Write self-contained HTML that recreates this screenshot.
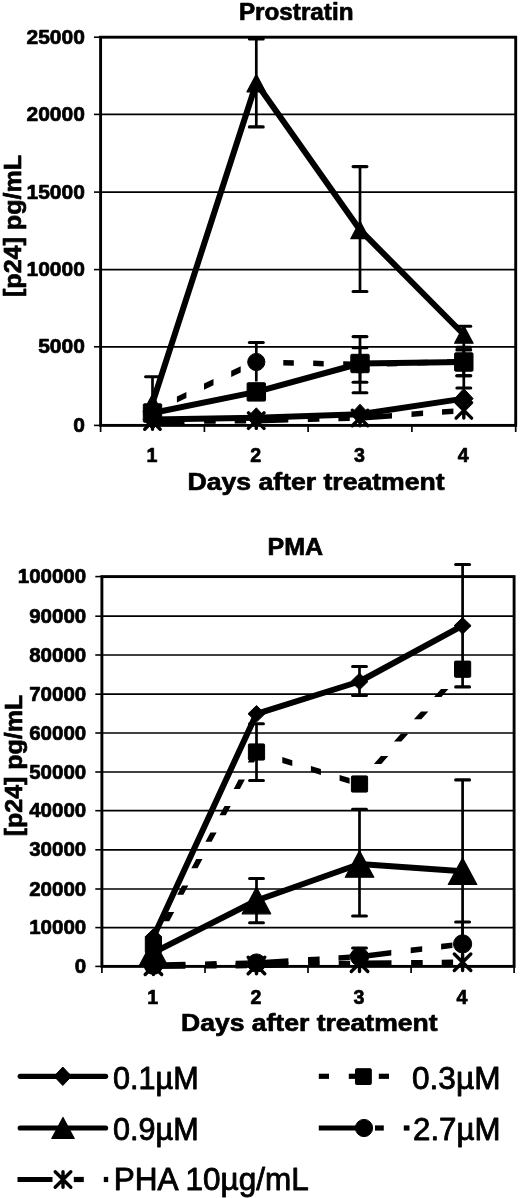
<!DOCTYPE html>
<html lang="en">
<head>
<meta charset="utf-8">
<title>Prostratin and PMA p24 time course</title>
<style>
html,body{margin:0;padding:0;background:#fff;}
body{width:520px;height:1198px;overflow:hidden;}
svg{display:block;}
svg text{font-family:"Liberation Sans",sans-serif;fill:#000;}
</style>
</head>
<body>
<svg width="520" height="1198" viewBox="0 0 520 1198">
<defs><filter id="soft" x="-2%" y="-2%" width="104%" height="104%"><feGaussianBlur stdDeviation="0.45"/></filter></defs>
<rect width="520" height="1198" fill="#fff"/>
<g filter="url(#soft)" stroke="#000" fill="#000">

<g id="chart-prostratin">
<line x1="100.6" y1="114.4" x2="515.7" y2="114.4" stroke-width="1.7" />
<line x1="100.6" y1="192.1" x2="515.7" y2="192.1" stroke-width="1.7" />
<line x1="100.6" y1="269.6" x2="515.7" y2="269.6" stroke-width="1.7" />
<line x1="100.6" y1="346.8" x2="515.7" y2="346.8" stroke-width="1.7" />
<rect x="100.6" y="37.2" width="415.1" height="388.2" fill="none" stroke-width="2.9"/>
<line x1="94.0" y1="37.2" x2="100.6" y2="37.2" stroke-width="1.6" />
<line x1="94.0" y1="114.4" x2="100.6" y2="114.4" stroke-width="1.6" />
<line x1="94.0" y1="192.1" x2="100.6" y2="192.1" stroke-width="1.6" />
<line x1="94.0" y1="269.6" x2="100.6" y2="269.6" stroke-width="1.6" />
<line x1="94.0" y1="346.8" x2="100.6" y2="346.8" stroke-width="1.6" />
<line x1="94.0" y1="425.4" x2="100.6" y2="425.4" stroke-width="1.6" />
<line x1="100.6" y1="425.4" x2="100.6" y2="432.0" stroke-width="1.7" />
<line x1="204.4" y1="425.4" x2="204.4" y2="432.0" stroke-width="1.7" />
<line x1="308.1" y1="425.4" x2="308.1" y2="432.0" stroke-width="1.7" />
<line x1="411.9" y1="425.4" x2="411.9" y2="432.0" stroke-width="1.7" />
<line x1="515.7" y1="425.4" x2="515.7" y2="432.0" stroke-width="1.7" />
<g stroke="#000" stroke-width="0.7" stroke-linejoin="round">
<text x="238.9" y="20.1" font-size="24" font-weight="bold" text-anchor="start" textLength="114.6" lengthAdjust="spacingAndGlyphs" >Prostratin</text>
<text x="84.9" y="431.8" font-size="21" font-weight="bold" text-anchor="end" >0</text>
<text x="84.9" y="353.2" font-size="21" font-weight="bold" text-anchor="end" >5000</text>
<text x="84.9" y="276.0" font-size="21" font-weight="bold" text-anchor="end" >10000</text>
<text x="84.9" y="198.5" font-size="21" font-weight="bold" text-anchor="end" >15000</text>
<text x="84.9" y="120.8" font-size="21" font-weight="bold" text-anchor="end" >20000</text>
<text x="84.9" y="43.6" font-size="21" font-weight="bold" text-anchor="end" >25000</text>
<text x="151.9" y="462.0" font-size="19.6" font-weight="bold" text-anchor="middle" >1</text>
<text x="255.7" y="462.0" font-size="19.6" font-weight="bold" text-anchor="middle" >2</text>
<text x="359.4" y="462.0" font-size="19.6" font-weight="bold" text-anchor="middle" >3</text>
<text x="463.2" y="462.0" font-size="19.6" font-weight="bold" text-anchor="middle" >4</text>
<text x="187.6" y="490.0" font-size="24" font-weight="bold" text-anchor="start" textLength="257.0" lengthAdjust="spacingAndGlyphs" >Days after treatment</text>
<text transform="translate(20.8,297.0) rotate(-90)" font-size="24.6" font-weight="bold" textLength="142.0" lengthAdjust="spacingAndGlyphs">[p24] pg/mL</text>
</g>
<line x1="152.5" y1="376.7" x2="152.5" y2="403.0" stroke-width="2.7" />
<line x1="145.6" y1="376.7" x2="159.4" y2="376.7" stroke-width="3.1" stroke-linecap="round"/>
<line x1="256.3" y1="38.9" x2="256.3" y2="126.9" stroke-width="2.7" />
<line x1="249.4" y1="38.9" x2="263.2" y2="38.9" stroke-width="3.1" stroke-linecap="round"/>
<line x1="249.4" y1="126.9" x2="263.2" y2="126.9" stroke-width="3.1" stroke-linecap="round"/>
<line x1="360.0" y1="166.6" x2="360.0" y2="291.5" stroke-width="2.7" />
<line x1="353.1" y1="166.6" x2="366.9" y2="166.6" stroke-width="3.1" stroke-linecap="round"/>
<line x1="353.1" y1="291.5" x2="366.9" y2="291.5" stroke-width="3.1" stroke-linecap="round"/>
<line x1="463.8" y1="326.2" x2="463.8" y2="343.0" stroke-width="2.7" />
<line x1="456.9" y1="326.2" x2="470.7" y2="326.2" stroke-width="3.1" stroke-linecap="round"/>
<line x1="256.3" y1="342.5" x2="256.3" y2="381.5" stroke-width="2.7" />
<line x1="249.4" y1="342.5" x2="263.2" y2="342.5" stroke-width="3.1" stroke-linecap="round"/>
<line x1="360.0" y1="336.6" x2="360.0" y2="392.7" stroke-width="2.7" />
<line x1="353.1" y1="336.6" x2="366.9" y2="336.6" stroke-width="3.1" stroke-linecap="round"/>
<line x1="353.1" y1="392.7" x2="366.9" y2="392.7" stroke-width="3.1" stroke-linecap="round"/>
<line x1="360.0" y1="347.7" x2="360.0" y2="382.3" stroke-width="2.7" />
<line x1="353.1" y1="347.7" x2="366.9" y2="347.7" stroke-width="3.1" stroke-linecap="round"/>
<line x1="353.1" y1="382.3" x2="366.9" y2="382.3" stroke-width="3.1" stroke-linecap="round"/>
<line x1="463.8" y1="347.2" x2="463.8" y2="375.7" stroke-width="2.7" />
<line x1="456.9" y1="347.2" x2="470.7" y2="347.2" stroke-width="3.1" stroke-linecap="round"/>
<line x1="456.9" y1="375.7" x2="470.7" y2="375.7" stroke-width="3.1" stroke-linecap="round"/>
<line x1="463.8" y1="349.9" x2="463.8" y2="375.7" stroke-width="2.7" />
<line x1="456.9" y1="349.9" x2="470.7" y2="349.9" stroke-width="3.1" stroke-linecap="round"/>
<line x1="456.9" y1="375.7" x2="470.7" y2="375.7" stroke-width="3.1" stroke-linecap="round"/>
<line x1="463.8" y1="343.0" x2="463.8" y2="388.0" stroke-width="2.7" />
<line x1="456.9" y1="388.0" x2="470.7" y2="388.0" stroke-width="3.1" stroke-linecap="round"/>
<path d="M152.5,418.7L184.5,418.5L184.5,424.0L152.5,424.3ZM204.1,418.3L215.7,418.2L215.7,423.7L204.1,423.8ZM234.7,418.0L246.1,417.9L246.1,423.4L234.7,423.5Z" stroke="none"/>
<path d="M256.3,417.8L288.3,417.0L288.3,422.5L256.3,423.4ZM307.8,416.6L319.4,416.3L319.4,421.8L307.8,422.1ZM338.4,415.8L349.8,415.5L349.8,421.0L338.4,421.3Z" stroke="none"/>
<path d="M360.0,415.2L392.0,412.9L392.0,418.4L360.0,420.8ZM411.5,411.5L423.1,410.6L423.1,416.1L411.5,417.0ZM442.0,409.2L453.4,408.4L453.4,413.9L442.0,414.8Z" stroke="none"/>
<polyline points="152.5,419.4 256.3,417.8 360.0,414.2 463.8,398.6" fill="none" stroke-width="6.0" stroke-linejoin="round" stroke-linecap="round"/>
<path d="M152.5,408.0L159.3,404.8L159.3,410.8L152.5,414.0ZM176.9,396.4L186.4,391.9L186.4,398.0L176.9,402.5ZM204.0,383.6L213.5,379.1L213.5,385.2L204.0,389.7ZM231.2,370.8L240.7,366.3L240.7,372.4L231.2,376.9Z" stroke="none"/>
<path d="M256.3,359.2L263.8,359.4L263.8,364.9L256.3,364.8ZM283.3,359.9L293.8,360.2L293.8,365.7L283.3,365.4ZM313.2,360.6L323.7,360.9L323.7,366.4L313.2,366.1ZM343.2,361.3L353.7,361.6L353.7,367.1L343.2,366.8Z" stroke="none"/>
<path d="M360.0,361.7L367.5,361.5L367.5,367.0L360.0,367.3ZM387.0,361.0L397.5,360.7L397.5,366.2L387.0,366.5ZM417.0,360.1L427.5,359.8L427.5,365.3L417.0,365.6ZM447.0,359.2L457.5,358.9L457.5,364.4L447.0,364.7Z" stroke="none"/>
<polyline points="152.5,413.0 256.3,391.9 360.0,363.5 463.8,362.0" fill="none" stroke-width="6.0" stroke-linejoin="round" stroke-linecap="round"/>
<polyline points="152.5,403.0 256.3,83.0 360.0,229.9 463.8,334.5" fill="none" stroke-width="6.0" stroke-linejoin="round" stroke-linecap="round"/>
<path d="M144.7,413.8L160.2,429.2M160.2,413.8L144.7,429.2M152.5,413.8L152.5,429.2" fill="none" stroke="#000" stroke-width="3.4" stroke-linecap="round"/>
<path d="M248.5,412.9L264.0,428.4M264.0,412.9L248.5,428.4M256.3,412.9L256.3,428.4" fill="none" stroke="#000" stroke-width="3.4" stroke-linecap="round"/>
<path d="M352.3,410.2L367.8,425.8M367.8,410.2L352.3,425.8M360.0,410.2L360.0,425.8" fill="none" stroke="#000" stroke-width="3.4" stroke-linecap="round"/>
<path d="M456.1,402.6L471.6,418.1M471.6,402.6L456.1,418.1M463.8,402.6L463.8,418.1" fill="none" stroke="#000" stroke-width="3.4" stroke-linecap="round"/>
<polygon points="152.5,409.4 161.7,419.4 152.5,429.4 143.2,419.4" stroke="#000" stroke-width="1" stroke-linejoin="round"/>
<polygon points="256.3,407.8 265.5,417.8 256.3,427.8 247.0,417.8" stroke="#000" stroke-width="1" stroke-linejoin="round"/>
<polygon points="360.0,404.2 369.3,414.2 360.0,424.2 350.8,414.2" stroke="#000" stroke-width="1" stroke-linejoin="round"/>
<polygon points="463.8,388.6 473.1,398.6 463.8,408.6 454.6,398.6" stroke="#000" stroke-width="1" stroke-linejoin="round"/>
<circle cx="152.5" cy="411.0" r="8.6"/>
<circle cx="256.3" cy="362.0" r="8.6"/>
<circle cx="360.0" cy="364.5" r="8.6"/>
<circle cx="463.8" cy="361.5" r="8.6"/>
<rect x="143.3" y="403.8" width="18.4" height="18.4" rx="1"/>
<rect x="247.1" y="382.7" width="18.4" height="18.4" rx="1"/>
<rect x="350.8" y="354.3" width="18.4" height="18.4" rx="1"/>
<rect x="454.6" y="352.8" width="18.4" height="18.4" rx="1"/>
<polygon points="152.5,394.2 161.7,411.8 143.2,411.8" stroke="#000" stroke-width="1.2" stroke-linejoin="round"/>
<polygon points="256.3,74.2 265.5,91.8 247.0,91.8" stroke="#000" stroke-width="1.2" stroke-linejoin="round"/>
<polygon points="360.0,221.2 369.3,238.7 350.8,238.7" stroke="#000" stroke-width="1.2" stroke-linejoin="round"/>
<polygon points="463.8,325.8 473.1,343.2 454.6,343.2" stroke="#000" stroke-width="1.2" stroke-linejoin="round"/>
</g>
<g id="chart-pma">
<line x1="101.9" y1="616.2" x2="514.1" y2="616.2" stroke-width="1.7" />
<line x1="101.9" y1="655.0" x2="514.1" y2="655.0" stroke-width="1.7" />
<line x1="101.9" y1="694.2" x2="514.1" y2="694.2" stroke-width="1.7" />
<line x1="101.9" y1="733.0" x2="514.1" y2="733.0" stroke-width="1.7" />
<line x1="101.9" y1="772.0" x2="514.1" y2="772.0" stroke-width="1.7" />
<line x1="101.9" y1="810.7" x2="514.1" y2="810.7" stroke-width="1.7" />
<line x1="101.9" y1="849.8" x2="514.1" y2="849.8" stroke-width="1.7" />
<line x1="101.9" y1="889.0" x2="514.1" y2="889.0" stroke-width="1.7" />
<line x1="101.9" y1="927.6" x2="514.1" y2="927.6" stroke-width="1.7" />
<rect x="101.9" y="576.6" width="412.2" height="389.8" fill="none" stroke-width="2.9"/>
<line x1="95.3" y1="576.6" x2="101.9" y2="576.6" stroke-width="1.6" />
<line x1="95.3" y1="616.2" x2="101.9" y2="616.2" stroke-width="1.6" />
<line x1="95.3" y1="655.0" x2="101.9" y2="655.0" stroke-width="1.6" />
<line x1="95.3" y1="694.2" x2="101.9" y2="694.2" stroke-width="1.6" />
<line x1="95.3" y1="733.0" x2="101.9" y2="733.0" stroke-width="1.6" />
<line x1="95.3" y1="772.0" x2="101.9" y2="772.0" stroke-width="1.6" />
<line x1="95.3" y1="810.7" x2="101.9" y2="810.7" stroke-width="1.6" />
<line x1="95.3" y1="849.8" x2="101.9" y2="849.8" stroke-width="1.6" />
<line x1="95.3" y1="889.0" x2="101.9" y2="889.0" stroke-width="1.6" />
<line x1="95.3" y1="927.6" x2="101.9" y2="927.6" stroke-width="1.6" />
<line x1="95.3" y1="966.4" x2="101.9" y2="966.4" stroke-width="1.6" />
<line x1="101.9" y1="966.4" x2="101.9" y2="973.0" stroke-width="1.7" />
<line x1="205.0" y1="966.4" x2="205.0" y2="973.0" stroke-width="1.7" />
<line x1="308.0" y1="966.4" x2="308.0" y2="973.0" stroke-width="1.7" />
<line x1="411.1" y1="966.4" x2="411.1" y2="973.0" stroke-width="1.7" />
<line x1="514.1" y1="966.4" x2="514.1" y2="973.0" stroke-width="1.7" />
<g stroke="#000" stroke-width="0.7" stroke-linejoin="round">
<text x="267.6" y="554.6" font-size="24" font-weight="bold" text-anchor="start" textLength="55.6" lengthAdjust="spacingAndGlyphs" >PMA</text>
<text x="86.2" y="973.0" font-size="20.5" font-weight="bold" text-anchor="end" >0</text>
<text x="86.2" y="934.2" font-size="20.5" font-weight="bold" text-anchor="end" >10000</text>
<text x="86.2" y="895.6" font-size="20.5" font-weight="bold" text-anchor="end" >20000</text>
<text x="86.2" y="856.4" font-size="20.5" font-weight="bold" text-anchor="end" >30000</text>
<text x="86.2" y="817.3" font-size="20.5" font-weight="bold" text-anchor="end" >40000</text>
<text x="86.2" y="778.6" font-size="20.5" font-weight="bold" text-anchor="end" >50000</text>
<text x="86.2" y="739.6" font-size="20.5" font-weight="bold" text-anchor="end" >60000</text>
<text x="86.2" y="700.8" font-size="20.5" font-weight="bold" text-anchor="end" >70000</text>
<text x="86.2" y="661.6" font-size="20.5" font-weight="bold" text-anchor="end" >80000</text>
<text x="86.2" y="622.8" font-size="20.5" font-weight="bold" text-anchor="end" >90000</text>
<text x="86.2" y="583.2" font-size="20.5" font-weight="bold" text-anchor="end" >100000</text>
<text x="152.8" y="1003.6" font-size="19.6" font-weight="bold" text-anchor="middle" >1</text>
<text x="255.9" y="1003.6" font-size="19.6" font-weight="bold" text-anchor="middle" >2</text>
<text x="358.9" y="1003.6" font-size="19.6" font-weight="bold" text-anchor="middle" >3</text>
<text x="462.0" y="1003.6" font-size="19.6" font-weight="bold" text-anchor="middle" >4</text>
<text x="181.0" y="1031.0" font-size="24" font-weight="bold" text-anchor="start" textLength="256.5" lengthAdjust="spacingAndGlyphs" >Days after treatment</text>
<text transform="translate(21.8,836.3) rotate(-90)" font-size="24.6" font-weight="bold" textLength="141.5" lengthAdjust="spacingAndGlyphs">[p24] pg/mL</text>
</g>
<line x1="359.5" y1="666.5" x2="359.5" y2="695.4" stroke-width="2.7" />
<line x1="352.6" y1="666.5" x2="366.4" y2="666.5" stroke-width="3.1" stroke-linecap="round"/>
<line x1="352.6" y1="695.4" x2="366.4" y2="695.4" stroke-width="3.1" stroke-linecap="round"/>
<line x1="462.6" y1="564.5" x2="462.6" y2="686.9" stroke-width="2.7" />
<line x1="455.7" y1="564.5" x2="469.5" y2="564.5" stroke-width="3.1" stroke-linecap="round"/>
<line x1="455.7" y1="686.9" x2="469.5" y2="686.9" stroke-width="3.1" stroke-linecap="round"/>
<line x1="256.5" y1="723.8" x2="256.5" y2="780.5" stroke-width="2.7" />
<line x1="249.6" y1="723.8" x2="263.4" y2="723.8" stroke-width="3.1" stroke-linecap="round"/>
<line x1="249.6" y1="780.5" x2="263.4" y2="780.5" stroke-width="3.1" stroke-linecap="round"/>
<line x1="256.5" y1="878.5" x2="256.5" y2="922.7" stroke-width="2.7" />
<line x1="249.6" y1="878.5" x2="263.4" y2="878.5" stroke-width="3.1" stroke-linecap="round"/>
<line x1="249.6" y1="922.7" x2="263.4" y2="922.7" stroke-width="3.1" stroke-linecap="round"/>
<line x1="359.5" y1="809.2" x2="359.5" y2="916.0" stroke-width="2.7" />
<line x1="352.6" y1="809.2" x2="366.4" y2="809.2" stroke-width="3.1" stroke-linecap="round"/>
<line x1="352.6" y1="916.0" x2="366.4" y2="916.0" stroke-width="3.1" stroke-linecap="round"/>
<line x1="462.6" y1="779.9" x2="462.6" y2="962.0" stroke-width="2.7" />
<line x1="455.7" y1="779.9" x2="469.5" y2="779.9" stroke-width="3.1" stroke-linecap="round"/>
<line x1="462.6" y1="922.0" x2="462.6" y2="944.0" stroke-width="2.7" />
<line x1="455.7" y1="922.0" x2="469.5" y2="922.0" stroke-width="3.1" stroke-linecap="round"/>
<line x1="359.5" y1="948.0" x2="359.5" y2="957.0" stroke-width="2.7" />
<line x1="352.6" y1="948.0" x2="366.4" y2="948.0" stroke-width="3.1" stroke-linecap="round"/>
<path d="M153.4,963.5L185.4,963.3L185.4,968.8L153.4,969.1ZM205.0,963.1L216.6,963.1L216.6,968.6L205.0,968.6ZM235.6,962.9L247.0,962.8L247.0,968.3L235.6,968.4Z" stroke="none"/>
<path d="M256.5,962.7L288.5,962.1L288.5,967.6L256.5,968.3ZM308.1,961.6L319.7,961.4L319.7,966.9L308.1,967.1ZM338.7,961.0L350.1,960.8L350.1,966.3L338.7,966.5Z" stroke="none"/>
<path d="M359.5,960.5L391.5,960.2L391.5,965.7L359.5,966.1ZM411.1,960.0L422.7,959.9L422.7,965.4L411.1,965.5ZM441.7,959.8L453.1,959.6L453.1,965.1L441.7,965.3Z" stroke="none"/>
<path d="M153.4,962.5L185.4,961.8L185.4,967.3L153.4,968.1ZM205.0,961.4L216.6,961.1L216.6,966.6L205.0,966.9ZM235.6,960.7L247.0,960.5L247.0,966.0L235.6,966.2Z" stroke="none"/>
<path d="M256.5,960.2L288.4,958.3L288.4,963.8L256.5,965.8ZM308.0,957.1L319.6,956.4L319.6,962.0L308.0,962.7ZM338.5,955.3L349.9,954.6L349.9,960.1L338.5,960.8Z" stroke="none"/>
<path d="M359.5,954.0L391.3,950.1L391.3,955.6L359.5,959.6ZM410.7,947.6L422.2,946.2L422.2,951.7L410.7,953.2ZM441.1,943.8L452.4,942.4L452.4,947.9L441.1,949.4Z" stroke="none"/>
<path d="M150.3,945.0L156.5,945.0L160.1,938.4L153.8,938.4ZM163.0,921.2L169.3,921.2L174.2,911.9L168.0,911.9ZM177.2,894.7L183.4,894.7L188.3,885.5L182.1,885.5ZM191.3,868.3L197.5,868.3L202.5,859.0L196.2,859.0ZM205.4,841.8L211.6,841.8L216.6,832.5L210.4,832.5ZM219.5,815.3L225.8,815.3L230.7,806.1L224.5,806.1ZM233.7,788.9L239.9,788.9L244.9,779.6L238.6,779.6ZM247.8,762.4L254.0,762.4L259.0,753.1L252.8,753.1Z" stroke="none"/>
<path d="M256.5,749.1L263.6,751.3L263.6,757.1L256.5,754.9ZM282.3,757.1L292.3,760.2L292.3,766.0L282.3,762.9ZM310.9,766.0L320.9,769.1L320.9,774.9L310.9,771.8ZM339.6,774.9L349.6,778.0L349.6,783.8L339.6,780.7Z" stroke="none"/>
<path d="M355.8,784.0L363.2,784.0L368.2,778.4L360.8,778.4ZM373.9,763.9L381.3,763.9L388.3,756.1L380.9,756.1ZM393.9,741.6L401.3,741.6L408.3,733.8L400.9,733.8ZM413.9,719.3L421.3,719.3L428.4,711.4L421.0,711.4ZM434.0,696.9L441.4,696.9L448.4,689.1L441.0,689.1ZM454.0,674.6L461.4,674.6L466.3,669.2L458.9,669.2Z" stroke="none"/>
<polyline points="153.4,952.6 256.5,900.5 359.5,864.0 462.6,871.2" fill="none" stroke-width="6.0" stroke-linejoin="round" stroke-linecap="round"/>
<polyline points="153.4,937.0 256.5,713.8 359.5,681.5 462.6,625.7" fill="none" stroke-width="6.0" stroke-linejoin="round" stroke-linecap="round"/>
<path d="M145.2,958.0L161.7,974.5M161.7,958.0L145.2,974.5M153.4,958.0L153.4,974.5" fill="none" stroke="#000" stroke-width="3.4" stroke-linecap="round"/>
<path d="M248.2,957.2L264.7,973.8M264.7,957.2L248.2,973.8M256.5,957.2L256.5,973.8" fill="none" stroke="#000" stroke-width="3.4" stroke-linecap="round"/>
<path d="M351.3,955.0L367.8,971.5M367.8,955.0L351.3,971.5M359.5,955.0L359.5,971.5" fill="none" stroke="#000" stroke-width="3.4" stroke-linecap="round"/>
<path d="M454.3,954.0L470.8,970.5M470.8,954.0L454.3,970.5M462.6,954.0L462.6,970.5" fill="none" stroke="#000" stroke-width="3.4" stroke-linecap="round"/>
<circle cx="153.4" cy="965.3" r="9.1"/>
<circle cx="256.5" cy="963.0" r="9.1"/>
<circle cx="359.5" cy="956.8" r="9.1"/>
<circle cx="462.6" cy="943.9" r="9.1"/>
<polygon points="153.4,939.4 167.7,965.9 139.2,965.9" stroke="#000" stroke-width="1.2" stroke-linejoin="round"/>
<polygon points="256.5,887.2 270.7,913.8 242.2,913.8" stroke="#000" stroke-width="1.2" stroke-linejoin="round"/>
<polygon points="359.5,850.8 373.8,877.2 345.3,877.2" stroke="#000" stroke-width="1.2" stroke-linejoin="round"/>
<polygon points="462.6,858.0 476.8,884.5 448.3,884.5" stroke="#000" stroke-width="1.2" stroke-linejoin="round"/>
<rect x="145.3" y="936.9" width="16.2" height="16.2" rx="1"/>
<rect x="248.4" y="743.9" width="16.2" height="16.2" rx="1"/>
<rect x="351.4" y="775.9" width="16.2" height="16.2" rx="1"/>
<rect x="454.5" y="661.1" width="16.2" height="16.2" rx="1"/>
<polygon points="153.4,928.8 161.9,937.0 153.4,945.2 144.9,937.0" stroke="#000" stroke-width="1" stroke-linejoin="round"/>
<polygon points="256.5,705.5 265.0,713.8 256.5,722.0 248.0,713.8" stroke="#000" stroke-width="1" stroke-linejoin="round"/>
<polygon points="359.5,673.2 368.0,681.5 359.5,689.8 351.0,681.5" stroke="#000" stroke-width="1" stroke-linejoin="round"/>
<polygon points="462.6,617.5 471.1,625.7 462.6,634.0 454.1,625.7" stroke="#000" stroke-width="1" stroke-linejoin="round"/>
</g>
<g id="legend">
<line x1="20.2" y1="1076.3" x2="105.6" y2="1076.3" stroke-width="5.2" stroke-linecap="round"/>
<polygon points="62.8,1067.0 71.5,1076.3 62.8,1085.5 54.0,1076.3" stroke="#000" stroke-width="1" stroke-linejoin="round"/>
<line x1="20.2" y1="1128.0" x2="105.6" y2="1128.0" stroke-width="5.2" stroke-linecap="round"/>
<polygon points="63.0,1117.5 74.2,1138.5 51.8,1138.5" stroke="#000" stroke-width="1.2" stroke-linejoin="round"/>
<line x1="17.5" y1="1179.5" x2="52.5" y2="1179.5" stroke-width="5.2" />
<line x1="73.8" y1="1179.5" x2="83.8" y2="1179.5" stroke-width="5.2" />
<line x1="103.8" y1="1179.5" x2="108.2" y2="1179.5" stroke-width="5.2" />
<path d="M55.2,1171.7L70.8,1187.3M70.8,1171.7L55.2,1187.3M63.0,1171.7L63.0,1187.3" fill="none" stroke="#000" stroke-width="3.4" stroke-linecap="round"/>
<line x1="318.8" y1="1076.3" x2="329.0" y2="1076.3" stroke-width="5.2" />
<line x1="348.8" y1="1076.3" x2="359.0" y2="1076.3" stroke-width="5.2" />
<line x1="378.8" y1="1076.3" x2="389.0" y2="1076.3" stroke-width="5.2" />
<rect x="355.5" y="1068.7" width="15.8" height="15.8" rx="1"/>
<line x1="318.8" y1="1128.0" x2="358.0" y2="1128.0" stroke-width="5.2" />
<line x1="375.0" y1="1128.0" x2="383.8" y2="1128.0" stroke-width="5.2" />
<line x1="403.8" y1="1128.0" x2="409.5" y2="1128.0" stroke-width="5.2" />
<circle cx="364.0" cy="1128.0" r="8.6"/>
<g stroke="#000" stroke-width="0.85" stroke-linejoin="round">
<text x="113.0" y="1089.3" font-size="31" font-weight="normal" text-anchor="start" textLength="85.6" lengthAdjust="spacingAndGlyphs" >0.1µM</text>
<text x="113.0" y="1139.5" font-size="31" font-weight="normal" text-anchor="start" textLength="85.6" lengthAdjust="spacingAndGlyphs" >0.9µM</text>
<text x="113.8" y="1190.4" font-size="31" font-weight="normal" text-anchor="start" textLength="195.0" lengthAdjust="spacingAndGlyphs" >PHA 10µg/mL</text>
<text x="412.0" y="1089.3" font-size="31" font-weight="normal" text-anchor="start" textLength="88.5" lengthAdjust="spacingAndGlyphs" >0.3µM</text>
<text x="413.0" y="1139.5" font-size="31" font-weight="normal" text-anchor="start" textLength="87.5" lengthAdjust="spacingAndGlyphs" >2.7µM</text>
</g>
</g>
</g>
</svg>
</body>
</html>
